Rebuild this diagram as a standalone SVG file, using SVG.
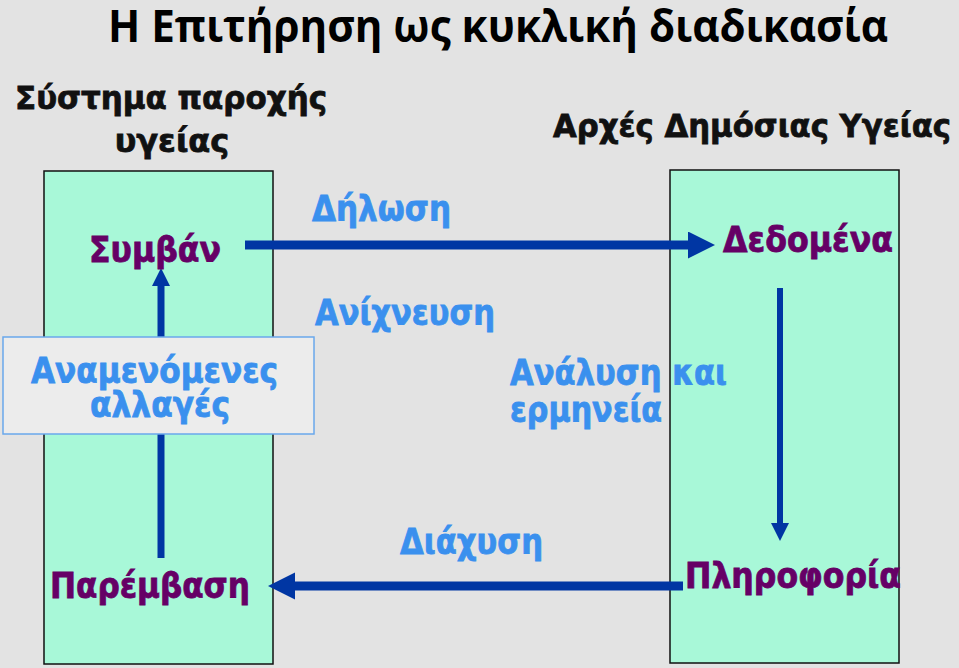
<svg xmlns="http://www.w3.org/2000/svg" width="959" height="668" viewBox="0 0 959 668">
<defs>
<style>
.bg{fill:#e3e3e3}
.panel{fill:#a8f8d8;stroke:#111;stroke-width:1.5}
.note{fill:#ececec;stroke:#6aa8ec;stroke-width:1.5}
.t{font-family:"DejaVu Sans","Liberation Sans",sans-serif;font-weight:bold;stroke-width:0.8}
.title{font-family:"Open Sans","DejaVu Sans",sans-serif;font-weight:bold;font-size:44px;fill:#000}
.head{font-size:32px;fill:#111;stroke:#111}
.node{font-size:35px;fill:#660066;stroke:#660066}
.lbl{font-size:35px;fill:#3a90ee;stroke:#3a90ee}
.conn{stroke:#0036a3;fill:none}
</style>
<marker id="big" markerUnits="userSpaceOnUse" markerWidth="28" markerHeight="28" viewBox="0 0 28 28" refX="0" refY="13.5" orient="auto">
<path d="M0,0 L27,13.5 L0,27 Z" fill="#0036a3"/>
</marker>
<marker id="small" markerUnits="userSpaceOnUse" markerWidth="20" markerHeight="20" viewBox="0 0 20 20" refX="0" refY="9" orient="auto">
<path d="M0,0 L18,9 L0,18 Z" fill="#0036a3"/>
</marker>
</defs>
<rect class="bg" x="0" y="0" width="959" height="668"/>
<text class="title" x="108" y="42" textLength="780" lengthAdjust="spacingAndGlyphs">Η Επιτήρηση ως κυκλική διαδικασία</text>
<g id="health-system-heading">
<text class="t head" x="15" y="109" textLength="312" lengthAdjust="spacingAndGlyphs">Σύστημα παροχής</text>
<text class="t head" x="172" y="152" text-anchor="middle">υγείας</text>
</g>
<g id="public-health-heading">
<text class="t head" x="553" y="137" textLength="398" lengthAdjust="spacingAndGlyphs">Αρχές Δημόσιας Υγείας</text>
</g>
<g id="health-system-panel"><rect class="panel" x="44" y="171" width="229" height="493"/></g>
<g id="public-health-panel"><rect class="panel" x="670" y="170" width="229" height="493"/></g>
<g id="connectors">
<line class="conn" x1="245" y1="245" x2="688" y2="245" stroke-width="9" marker-end="url(#big)"/>
<line class="conn" x1="683" y1="586" x2="295" y2="586" stroke-width="9" marker-end="url(#big)"/>
<line class="conn" x1="161" y1="558" x2="161" y2="286" stroke-width="7" marker-end="url(#small)"/>
<line class="conn" x1="780" y1="288" x2="780" y2="523" stroke-width="6" marker-end="url(#small)"/>
</g>
<g id="expected-changes">
<rect class="note" x="3" y="337" width="311" height="97"/>
<text class="t lbl" x="31" y="383" textLength="247" lengthAdjust="spacingAndGlyphs">Αναμενόμενες</text>
<text class="t lbl" x="90" y="417" textLength="140" lengthAdjust="spacingAndGlyphs">αλλαγές</text>
</g>
<g id="event"><text class="t node" x="89" y="262" textLength="132" lengthAdjust="spacingAndGlyphs">Συμβάν</text></g>
<g id="data"><text class="t node" x="723" y="252" textLength="170" lengthAdjust="spacingAndGlyphs">Δεδομένα</text></g>
<g id="information"><text class="t node" x="685" y="588" textLength="216" lengthAdjust="spacingAndGlyphs">Πληροφορία</text></g>
<g id="intervention"><text class="t node" x="50" y="598" textLength="200" lengthAdjust="spacingAndGlyphs">Παρέμβαση</text></g>
<g id="labels">
<text class="t lbl" x="312" y="221" textLength="139" lengthAdjust="spacingAndGlyphs">Δήλωση</text>
<text class="t lbl" x="315" y="325" textLength="180" lengthAdjust="spacingAndGlyphs">Ανίχνευση</text>
<text class="t lbl" x="510" y="385" textLength="217" lengthAdjust="spacingAndGlyphs">Ανάλυση και</text>
<text class="t lbl" x="510" y="422" textLength="152" lengthAdjust="spacingAndGlyphs">ερμηνεία</text>
<text class="t lbl" x="400" y="554" textLength="143" lengthAdjust="spacingAndGlyphs">Διάχυση</text>
</g>
</svg>
